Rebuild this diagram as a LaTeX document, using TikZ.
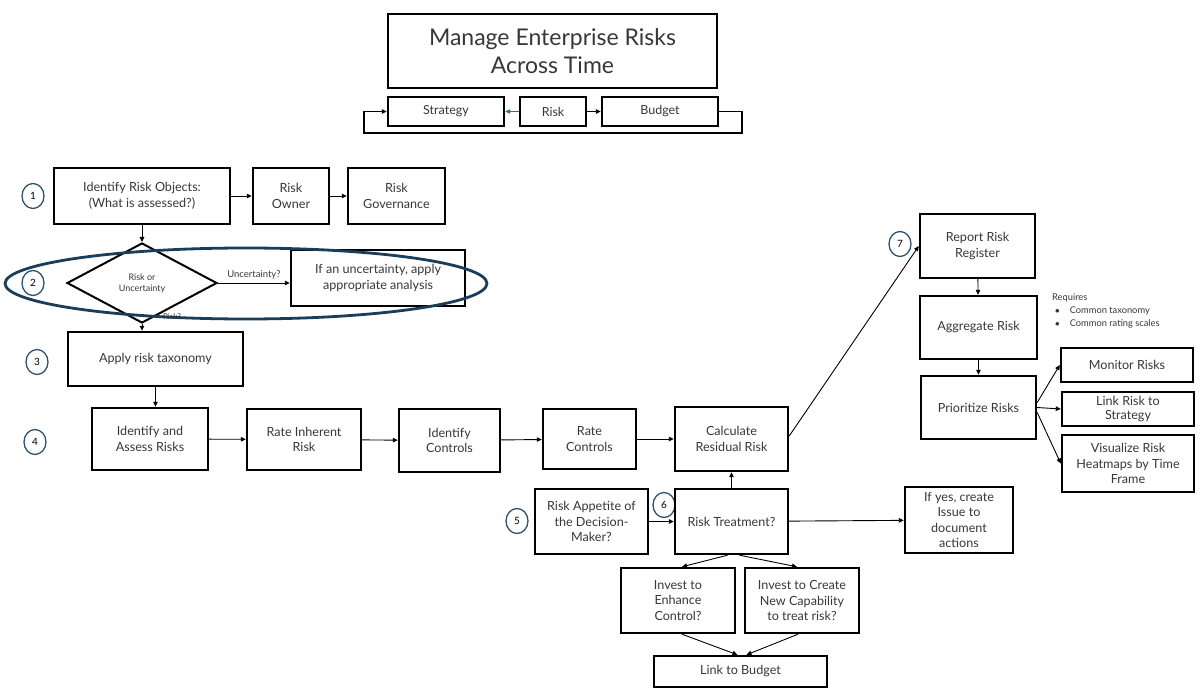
\documentclass[tikz,border=0pt]{standalone}
\usepackage{fontspec}
\setmainfont{Lato}
\usetikzlibrary{shapes.geometric, arrows.meta, positioning}
\definecolor{ringblue}{RGB}{26,62,90}
\definecolor{numblue}{RGB}{44,82,108}
\definecolor{tipblue}{RGB}{40,112,150}
\definecolor{txtgray}{RGB}{55,55,55}

\tikzset{
  box/.style={draw, line width=2.4pt, align=center, text=txtgray, inner sep=2pt,
    font=\fontsize{12.6}{15.5}\selectfont},
  num/.style={ellipse, draw=numblue, line width=1.3pt, minimum width=22, minimum height=25, inner sep=0pt,
    font=\fontsize{10}{11}\selectfont},
  arr/.style={line width=0.9pt, -{Triangle[length=5pt,width=4.5pt]}},
  small/.style={text=txtgray, font=\fontsize{9.5}{11}\selectfont}
}

\begin{document}
\begin{tikzpicture}[x=1pt, y=-1pt]
    \useasboundingbox (0,0) rectangle (1200,700);

    % Title and strategy-risk-budget loop
    \node[box, minimum width=329, minimum height=74, font=\fontsize{23}{28}\selectfont] (title) at (552.5,51) {Manage Enterprise Risks\\Across Time};
    \node[box, minimum width=116, minimum height=29, font=\fontsize{12.5}{14}\selectfont] (strategy) at (446,111.5) {Strategy};
    \node[box, minimum width=66, minimum height=29, font=\fontsize{12.5}{14}\selectfont] (risk) at (553,111.5) {Risk};
    \node[box, minimum width=116, minimum height=29, font=\fontsize{12.5}{14}\selectfont] (budget) at (660,111.5) {Budget};
    \draw[line width=0.9pt, tipblue, -{Triangle[length=5pt,width=4.5pt]}] (risk.west) -- (strategy.east);
    \draw[arr] (risk.east) -- (budget.west);
    \coordinate (loopr) at (742,133);
    \coordinate (loopl) at (364,133);
    \draw[arr, line width=1.2pt] (budget.east) -| (loopr) -- (loopl) |- (strategy.west);

    % Step numbers
    \node[num] (n1) at (33,196) {1};
    \node[num] (n2) at (33,283) {2};
    \node[num] (n3) at (37,362) {3};
    \node[num] (n4) at (35,442) {4};
    \node[num] (n5) at (517,521) {5};
    \node[num] (n6) at (664,505) {6};
    \node[num] (n7) at (900,244) {7};

    % Step 1
    \node[box, minimum width=176, minimum height=56] (objects) at (142,196) {Identify Risk Objects:\\(What is assessed?)};
    \node[box, minimum width=76, minimum height=56] (owner) at (291,196) {Risk\\Owner};
    \node[box, minimum width=97, minimum height=56] (governance) at (396.5,196) {Risk\\Governance};
    \draw[arr] (objects) -- (owner);
    \draw[arr] (owner) -- (governance);

    % Step 2
    \node[diamond, draw, line width=2pt, aspect=1.9, minimum width=150, minimum height=80, inner sep=0pt, align=center, small, font=\fontsize{9}{11}\selectfont] (decide) at (142,283) {Risk or\\Uncertainty};
    \node[box, minimum width=174, minimum height=56] (uncert) at (378,278) {If an uncertainty, apply\\appropriate analysis};
    \draw[arr] (objects.south) -- (decide.north);
    \draw[arr] (decide.east) -- node[above, small] {Uncertainty?} (uncert.west |- decide.east);
    \draw[ringblue, line width=2.8pt] (246,283.5) ellipse [x radius=241pt, y radius=35.5pt];
    \node[small, font=\fontsize{8}{9}\selectfont] (risklbl) at (172,317) {Risk?};

    % Step 3 and 4
    \node[box, minimum width=175, minimum height=54] (taxonomy) at (155.5,359) {Apply risk taxonomy};
    \draw[arr] (decide.south) -- (decide.south |- taxonomy.north);
    \node[box, minimum width=116, minimum height=62] (assess) at (150,439) {Identify and\\Assess Risks};
    \node[box, minimum width=114, minimum height=61] (inherent) at (304,439.5) {Rate Inherent\\Risk};
    \node[box, minimum width=101, minimum height=63] (controls) at (449.5,440.5) {Identify\\Controls};
    \node[box, minimum width=93, minimum height=60] (ratectl) at (589.5,439) {Rate\\Controls};
    \node[box, minimum width=113, minimum height=64] (residual) at (731.5,439) {Calculate\\Residual Risk};
    \draw[arr] (taxonomy.south) -- (taxonomy.south |- assess.north);
    \draw[arr] (assess) -- (inherent);
    \draw[arr] (inherent) -- (controls);
    \draw[arr] (controls) -- (ratectl);
    \draw[arr] (ratectl) -- (residual);

    % Steps 5 and 6
    \node[box, minimum width=113, minimum height=65] (appetite) at (591.5,521.5) {Risk Appetite of\\the Decision-\\Maker?};
    \node[box, minimum width=113, minimum height=65] (treatment) at (731.5,521.5) {Risk Treatment?};
    \node[box, minimum width=108, minimum height=66] (ifyes) at (959,520) {If yes, create\\Issue to\\document\\actions};
    \node[box, minimum width=114, minimum height=65] (enhance) at (678,600.5) {Invest to\\Enhance\\Control?};
    \node[box, minimum width=114, minimum height=65] (newcap) at (802,600.5) {Invest to Create\\New Capability\\to treat risk?};
    \node[box, minimum width=173, minimum height=31] (linkbudget) at (740.5,671.5) {Link to Budget};
    \draw[arr] (treatment) -- (residual);
    \draw[arr] (appetite) -- (treatment);
    \draw[arr] (treatment) -- (ifyes);
    \draw[arr] ([xshift=-4]treatment.south) -- ([xshift=4]enhance.north);
    \draw[arr] ([xshift=8]treatment.south) -- ([xshift=-5]newcap.north);
    \draw[arr] ([xshift=4]enhance.south) -- ([xshift=-3]linkbudget.north);
    \draw[arr] ([xshift=-4]newcap.south) -- ([xshift=6]linkbudget.north);

    % Step 7
    \node[box, minimum width=115, minimum height=64] (register) at (977.5,246) {Report Risk\\Register};
    \node[box, minimum width=117, minimum height=63] (aggregate) at (978.5,327.5) {Aggregate Risk};
    \node[box, minimum width=115, minimum height=63] (prioritize) at (978.5,407.5) {Prioritize Risks};
    \node[box, minimum width=132, minimum height=34] (monitor) at (1127,365) {Monitor Risks};
    \node[box, minimum width=132, minimum height=34, font=\fontsize{12.6}{14.5}\selectfont] (linkstrat) at (1128,409) {Link Risk to\\Strategy};
    \node[box, minimum width=132, minimum height=57] (visualize) at (1128,463.5) {Visualize Risk\\Heatmaps by Time\\Frame};
    \node[small, font=\fontsize{9.3}{13}\selectfont, anchor=north west, align=left, inner sep=0pt] (requires) at (1052,294)
        {Requires\\\hspace*{3pt}$\bullet$\hspace{10pt}Common taxonomy\\\hspace*{3pt}$\bullet$\hspace{10pt}Common rating scales};
    \draw[arr] ([yshift=3]residual.east) -- (register.west);
    \draw[arr] (register) -- (aggregate);
    \draw[arr] (aggregate) -- (prioritize);
    \draw[arr] ([yshift=5]prioritize.east) -- (monitor.west);
    \draw[arr] (prioritize.east) -- (linkstrat.west);
    \draw[arr] ([yshift=-5]prioritize.east) -- (visualize.west);
\end{tikzpicture}
\end{document}
